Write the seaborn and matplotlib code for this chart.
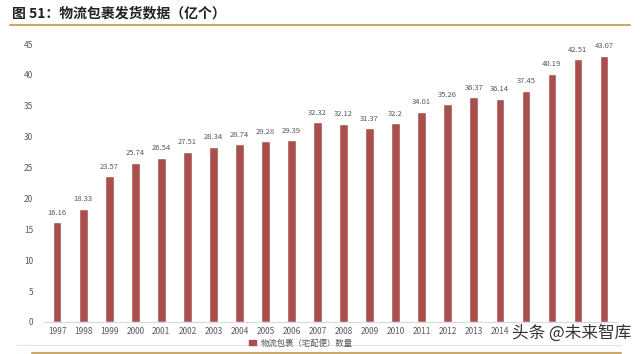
import pandas as pd
import matplotlib.pyplot as plt
import seaborn as sns
from matplotlib.lines import Line2D
from matplotlib.patches import Patch

sns.set_style("white")
plt.rcParams["font.family"] = ["Noto Sans CJK SC", "DejaVu Sans"]

years = [str(y) for y in range(1997, 2019)]
parcels = [16.16, 18.33, 23.57, 25.74, 26.54, 27.51, 28.34, 28.74, 29.28, 29.39,
           32.32, 32.12, 31.37, 32.2, 34.01, 35.26, 36.37, 36.14, 37.45, 40.19,
           42.51, 43.07]
title = "图 51：物流包裹发货数据（亿个）"
series_name = "物流包裹（宅配便）数量"

df = pd.DataFrame({"year": years, "value": parcels})

bar_color = "#A94F4D"
text_gray = "#595959"

fig = plt.figure(figsize=(6.4, 3.54), dpi=100)
ax = fig.add_axes([0.069, 0.0904, 0.895, 0.7853])

sns.barplot(data=df, x="year", y="value", color=bar_color, width=0.33,
            saturation=1, ax=ax)

for c in ax.containers:
    ax.bar_label(c, labels=[f"{v:g}" for v in parcels], padding=4,
                 fontsize=5.5, color=text_gray)

ax.set_ylim(0, 45)
ax.set_xlim(-0.5, len(years) - 0.5)
ax.set_yticks(range(0, 46, 5))
ax.set_xlabel("")
ax.set_ylabel("")
ax.tick_params(axis="both", length=0, labelsize=6, colors=text_gray)
ax.tick_params(axis="y", pad=8)
for s in ["top", "right", "left"]:
    ax.spines[s].set_visible(False)
ax.spines["bottom"].set_color("#d9d9d9")
ax.spines["bottom"].set_linewidth(0.8)

# legend under the axis
leg = fig.legend(handles=[Patch(color=bar_color, label=series_name)],
                 loc="center", bbox_to_anchor=(0.47, 0.031), frameon=False,
                 fontsize=6, handlelength=0.8, handleheight=0.6,
                 labelcolor=text_gray, handletextpad=0.6)

# title and decorative rules
fig.text(0.019, 0.963, title, fontsize=10, fontweight="bold", color="#222222",
         va="center", ha="left")
fig.add_artist(Line2D([0.016, 0.984], [0.928, 0.928], color="#C9A86A", lw=1.5,
                      transform=fig.transFigure))
fig.add_artist(Line2D([0.027, 0.97], [0.026, 0.026], color="#e3e3e3", lw=0.8,
                      transform=fig.transFigure))
fig.add_artist(Line2D([0.05, 0.97], [0.004, 0.004], color="#C9A86A", lw=1.5,
                      transform=fig.transFigure))

# watermark sits over the last year labels, as in the source image
fig.text(0.986, 0.058, "头条 @未来智库", fontsize=12, color="#333333",
         ha="right", va="center", zorder=10,
         bbox=dict(facecolor="white", edgecolor="none", pad=1.5))

fig.savefig("out.png", dpi=100)
